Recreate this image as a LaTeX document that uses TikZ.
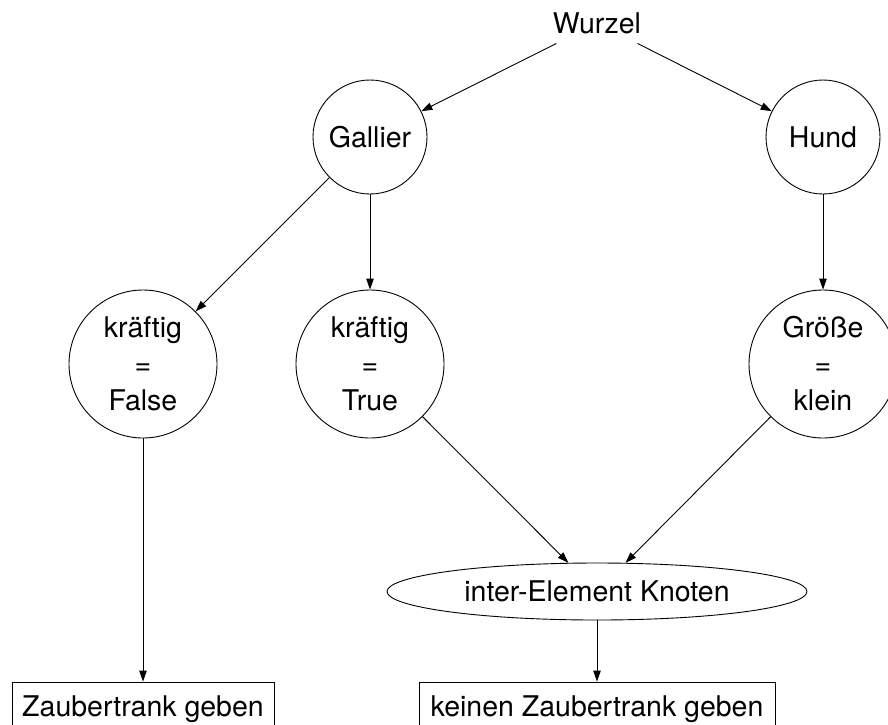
\documentclass[tikz,border=0pt]{standalone}
\usepackage{fontspec}
\setmainfont{TeX Gyre Heros}
\usetikzlibrary{arrows.meta,shapes.geometric}

\tikzset{
  lbl/.style={font=\fontsize{28.5}{36.5}\selectfont, align=center, inner sep=0pt},
  smallcirc/.style={lbl, circle, draw, minimum size=114pt},
  bigcirc/.style={lbl, circle, draw, minimum size=148pt},
  oval/.style={lbl, ellipse, draw, minimum width=420pt, minimum height=57pt},
  leaf/.style={lbl, rectangle, draw, minimum height=48pt, text depth=0pt},
  edge/.style={line width=0.9pt, -{Triangle[length=11pt,width=7.5pt]}},
}

\begin{document}
\begin{tikzpicture}[x=1pt, y=-1pt, line width=0.9pt]
  \useasboundingbox (0,0) rectangle (888,724);
  \clip (0,0) rectangle (888,724);

  % nodes
  \node[lbl, minimum height=40pt, minimum width=96pt] (root) at (597,23) {Wurzel};
  \node[smallcirc] (gallier) at (370,137) {Gallier};
  \node[smallcirc] (hund) at (823,137) {Hund};
  \node[bigcirc] (kfalse) at (143,364) {kräftig\\=\\False};
  \node[bigcirc] (ktrue) at (370,364) {kräftig\\=\\True};
  \node[bigcirc] (groesse) at (823,364) {Größe\\=\\klein};
  \node[oval] (inter) at (597,591.5) {inter-Element Knoten};
  \node[leaf, minimum width=262pt] (geben) at (143,706) {Zaubertrank geben};
  \node[leaf, minimum width=356pt] (keinen) at (597,706) {keinen Zaubertrank geben};

  % connectors
  \draw[edge] (root) -- (gallier);
  \draw[edge] (root) -- (hund);
  \draw[edge] (gallier) -- (kfalse);
  \draw[edge] (gallier) -- (ktrue);
  \draw[edge] (hund) -- (groesse);
  \draw[edge] (kfalse) -- (geben);
  \draw[edge] (ktrue) -- (inter);
  \draw[edge] (groesse) -- (inter);
  \draw[edge] (inter) -- (keinen);
\end{tikzpicture}
\end{document}
